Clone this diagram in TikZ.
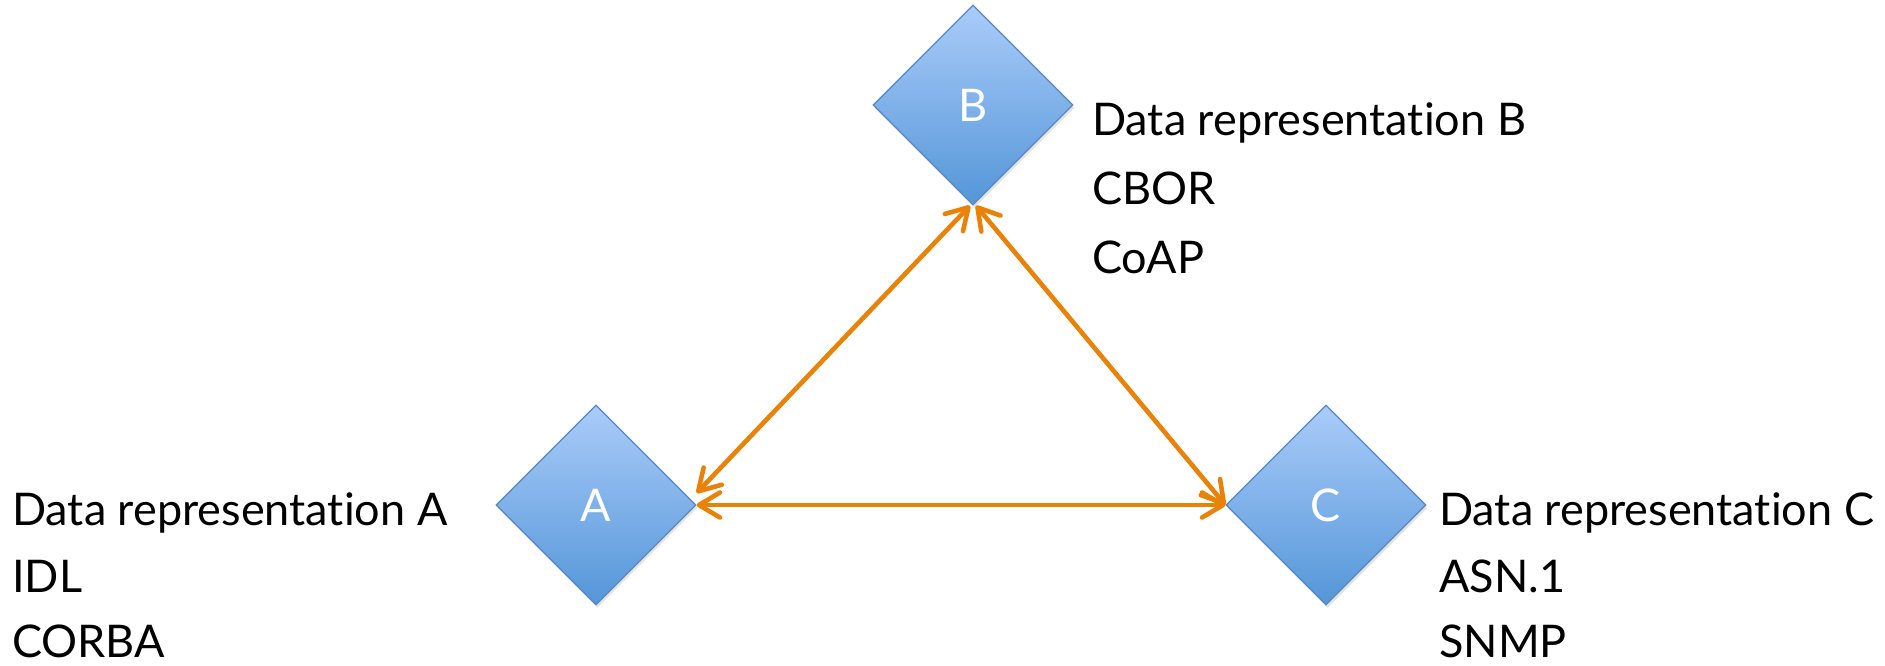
\documentclass[tikz,border=0pt]{standalone}
\usepackage{fontspec}
\setmainfont{Lato}[Ligatures={NoCommon,NoRequired,NoContextual}]
\usetikzlibrary{shapes.geometric,arrows.meta,shadows}
\definecolor{dtop}{RGB}{170,204,250}
\definecolor{dbot}{RGB}{84,150,216}
\definecolor{dedge}{RGB}{88,136,196}
\definecolor{arr}{RGB}{234,130,8}
\begin{document}
\begin{tikzpicture}[x=1pt,y=-1pt,
  dia/.style={diamond, aspect=1, minimum width=200pt, minimum height=200pt, inner sep=0pt,
    top color=dtop, bottom color=dbot, draw=dedge, line width=1.3pt, text=white,
    font=\fontsize{45}{50}\selectfont,
    drop shadow={opacity=0.22, shadow xshift=1.5pt, shadow yshift=-3pt}},
  lbl/.style={anchor=base west, inner sep=0pt, font=\fontsize{45}{50}\selectfont},
  link/.style={draw=arr, line width=4.6pt,
    {Straight Barb[length=21pt,width=25pt,round]}-{Straight Barb[length=21pt,width=25pt,round]}}]
\useasboundingbox (0,0) rectangle (1885,665);
\node[dia] (A) at (596,505) {\raisebox{-3pt}{A}};
\node[dia] (B) at (973,105) {\raisebox{-3pt}{B}};
\node[dia] (C) at (1326,505) {\raisebox{-3pt}{C}};
% labels A
\node[lbl] (a1) at (12,525) {Data representation A};
\node[lbl] (a2) at (12,592) {IDL};
\node[lbl] (a3) at (12,657) {CORBA};
% labels B
\node[lbl] (b1) at (1092,135) {Data representation B};
\node[lbl] (b2) at (1092,204) {CBOR};
\node[lbl] (b3) at (1092,273) {CoAP};
% labels C
\node[lbl] (c1) at (1439,525) {Data representation C};
\node[lbl] (c2) at (1439,592) {ASN.1};
\node[lbl] (c3) at (1439,657) {SNMP};
% connectors
\draw[link] ([yshift=12pt]A.east) -- ([xshift=-3pt]B.south);
\draw[link] ([xshift=3pt]B.south) -- (C.west);
\draw[link] (A.east) -- (C.west);
\end{tikzpicture}
\end{document}
